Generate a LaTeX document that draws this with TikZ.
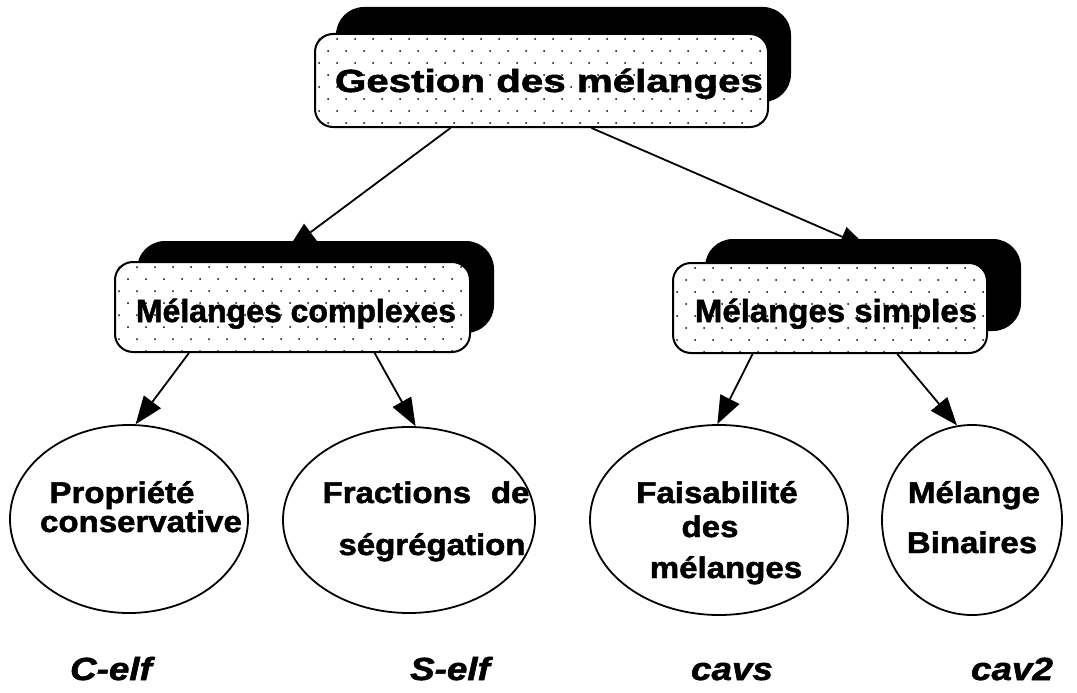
\documentclass[tikz,border=0pt]{standalone}
\usepackage{fontspec}
\setmainfont{Liberation Sans}
\newfontfamily\heavy{Liberation Sans}[BoldFeatures={FakeBold=1.6},BoldItalicFeatures={FakeBold=1.6}]
\usetikzlibrary{arrows.meta,calc,shapes.geometric}
\pgfdeclarelayer{bg}
\pgfsetlayers{bg,main}
\begin{document}
\begin{tikzpicture}[x=1pt,y=-1pt,
  front/.style={draw, line width=2pt, fill=white, rounded corners=18pt, inner sep=0pt},
  shadowbox/.style={fill=black, rounded corners=28pt},
  oval/.style={draw, ellipse, line width=1.8pt, inner sep=0pt},
  arr/.style={line width=1.8pt, -{Triangle[length=28pt,width=21pt]}},
  bigtxt/.style={font=\heavy\bfseries\fontsize{32}{36}\selectfont, inner sep=0pt, anchor=base},
  ovtxt/.style={font=\heavy\bfseries\fontsize{30}{34}\selectfont, inner sep=0pt, anchor=base},
  lbl/.style={font=\heavy\bfseries\itshape\fontsize{32}{36}\selectfont, inner sep=0pt, anchor=base},
  dot/.style={fill=black}
]
\useasboundingbox (0,0) rectangle (1077,693);
% boxes
\node[front, minimum width=453pt, minimum height=93pt] (top) at (541.5,80.5) {};
\node[front, minimum width=355pt, minimum height=90pt] (ml) at (292.5,307) {};
\node[front, minimum width=314pt, minimum height=90pt] (mr) at (830,308) {};
% ellipses
\node[oval, minimum width=238pt, minimum height=188pt] (e1) at (129,519) {};
\node[oval, minimum width=252pt, minimum height=186pt] (e2) at (409,520) {};
\node[oval, minimum width=258pt, minimum height=190pt] (e3) at (719,520) {};
\node[oval, minimum width=180pt, minimum height=190pt] (e4) at (972,520) {};
% hidden arrow tips
\coordinate (tl) at (288,249);
\coordinate (tr) at (868,248);
% dots
\foreach \b/\nc/\nr in {top/26/8, ml/20/8, mr/18/8}{
  \begin{scope}
    \clip[rounded corners=18pt] (\b.south west) rectangle (\b.north east);
    \foreach \r in {0,...,\nr}{
      \foreach \c in {0,...,\nc}{
        \fill[dot] ($(\b.north west)+({\c*18+5+mod(\r,2)*9},{\r*12+6})$) circle (1pt);
      }
    }
  \end{scope}
}
% texts
\node[bigtxt] (ttop) at (549,92) {\scalebox{1.26}[1]{Gestion des mélanges}};
\node[bigtxt] (tml) at (296,322) {\scalebox{1.0}[1]{Mélanges complexes}};
\node[bigtxt] (tmr) at (836,322) {\scalebox{1.03}[1]{Mélanges simples}};
\node[ovtxt] (t1a) at (122,503) {\scalebox{1.1}[1]{Propriété}};
\node[ovtxt] (t1b) at (141,532) {\scalebox{1.1}[1]{conservative}};
\node[ovtxt] (t2a) at (426,503) {\scalebox{1.1}[1]{Fractions\hspace{0.6em}de}};
\node[ovtxt] (t2b) at (432,555) {\scalebox{1.1}[1]{ségrégation}};
\node[ovtxt] (t3a) at (717,503) {\scalebox{1.1}[1]{Faisabilité}};
\node[ovtxt] (t3b) at (710,537) {\scalebox{1.1}[1]{des}};
\node[ovtxt] (t3c) at (726,578) {\scalebox{1.1}[1]{mélanges}};
\node[ovtxt] (t4a) at (974,503) {\scalebox{1.1}[1]{Mélange}};
\node[ovtxt] (t4b) at (972,553) {\scalebox{1.1}[1]{Binaires}};
% bottom labels
\node[lbl] (l1) at (111,680) {\scalebox{1.15}[1]{C-elf}};
\node[lbl] (l2) at (450,680) {\scalebox{1.15}[1]{S-elf}};
\node[lbl] (l3) at (732,680) {\scalebox{1.15}[1]{cavs}};
\node[lbl] (l4) at (1012,680) {\scalebox{1.15}[1]{cav2}};
% arrows and shadows (behind)
\begin{pgfonlayer}{bg}
  \draw[arr] ($(top.south west)!0.30!(top.south east)$) -- (tl);
  \draw[arr] ($(top.south west)!0.61!(top.south east)$) -- (tr);
  \draw[arr] ($(ml.south west)!0.21!(ml.south east)$) -- (e1.86);
  \draw[arr] ($(ml.south west)!0.73!(ml.south east)$) -- (e2.86);
  \draw[arr] ($(mr.south west)!0.255!(mr.south east)$) -- (e3.91);
  \draw[arr] ($(mr.south west)!0.713!(mr.south east)$) -- (e4.99);
  \fill[shadowbox] ([shift={(22,-26)}]top.south west) rectangle ([shift={(22,-26)}]top.north east);
  \fill[shadowbox] ([shift={(23,-20)}]ml.south west) rectangle ([shift={(23,-20)}]ml.north east);
  \fill[shadowbox] ([shift={(33,-23)}]mr.south west) rectangle ([shift={(33,-23)}]mr.north east);
\end{pgfonlayer}
\end{tikzpicture}
\end{document}
